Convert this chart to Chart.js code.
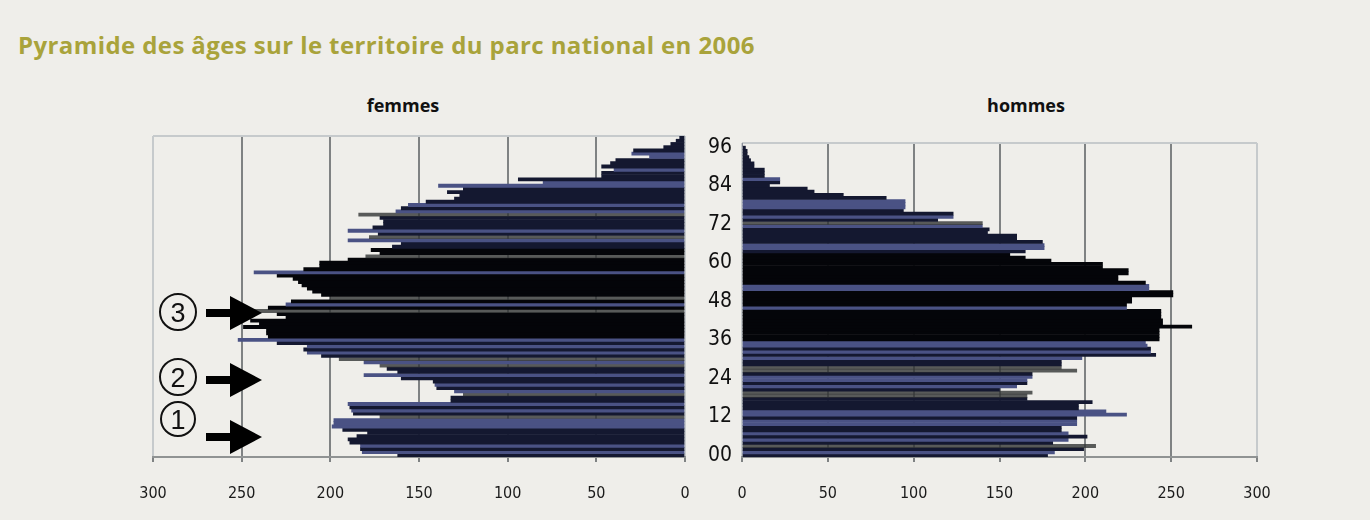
<!DOCTYPE html>
<html lang="fr">
<head>
<meta charset="utf-8">
<title>Pyramide des âges 2006</title>
<script src="https://cdn.jsdelivr.net/npm/chart.js@4.4.1/dist/chart.umd.min.js"></script>
<style>
  html, body { margin: 0; padding: 0; }
  body { width: 1370px; height: 520px; background: #efeeea; position: relative; overflow: hidden; font-family: 'Open Sans', sans-serif; }
  h1 { position: absolute; left: 18px; top: 28px; margin: 0; font-size: 24px; letter-spacing: 0.4px; font-weight: 700; color: #a9a33b; white-space: nowrap; }
  .side { position: absolute; top: 93px; font-size: 18px; font-weight: 700; color: #111; transform: translateX(-50%); }
  canvas { position: absolute; }
  svg { position: absolute; left: 0; top: 0; pointer-events: none; }
</style>
</head>
<body>
<h1>Pyramide des âges sur le territoire du parc national en 2006</h1>
<div class="side" style="left:403px">femmes</div>
<div class="side" style="left:1026px">hommes</div>
<canvas id="femmesChart" width="600" height="390" style="left:140px;top:130px"></canvas>
<canvas id="hommesChart" width="640" height="390" style="left:730px;top:130px"></canvas>
<svg width="1370" height="520">
  <g fill="none" stroke="#111" stroke-width="2">
    <circle cx="178" cy="312" r="18"/>
    <circle cx="178" cy="377" r="18"/>
    <circle cx="178" cy="419" r="17"/>
  </g>
  <g font-family="Liberation Sans, sans-serif" font-size="27" fill="#111" text-anchor="middle">
    <text x="178" y="322">3</text>
    <text x="178" y="387">2</text>
    <text x="178" y="429">1</text>
  </g>
  <g fill="#000">
    <polygon points="206,309 230,309 230,296 262,313 230,330 230,317 206,317"/>
    <polygon points="206,376 230,376 230,363 262,380 230,397 230,384 206,384"/>
    <polygon points="206,433 230,433 230,420 262,437 230,454 230,441 206,441"/>
  </g>
</svg>
<script>
// ages 0..99 (categories), bottom to top
const ages = Array.from({ length: 100 }, (_, i) => i);
const ageTicks = ['00', '12', '24', '36', '48', '60', '72', '84', '96'];
const valueTicks = [0, 50, 100, 150, 200, 250, 300];

// population by single year of age
const femmes = [
  162, 182, 183, 183, 189, 190, 185, 179, 193, 199,
  198, 198, 172, 187, 188, 189, 190, 132, 132, 125,
  130, 140, 141, 142, 160, 181, 162, 168, 172, 181,
  195, 205, 213, 215, 213, 230, 252, 235, 236, 236,
  249, 240, 245, 225, 230, 247, 235, 225, 222, 200,
  205, 210, 213, 216, 218, 221, 230, 243, 215, 206,
  206, 190, 180, 172, 177, 165, 160, 190, 178, 173,
  190, 176, 170, 170, 172, 184, 163, 160, 156, 146,
  130, 127, 134, 125, 139, 80, 94, 47, 47, 40,
  47, 42, 39, 20, 30, 29, 12, 8, 5, 3
];
const hommes = [
  178, 182, 199, 206, 181, 190, 201, 190, 186, 186,
  195, 195, 195, 224, 212, 196, 196, 204, 166, 166,
  169, 150, 160, 166, 166, 169, 169, 195, 186, 186,
  186, 198, 241, 238, 238, 236, 235, 243, 243, 243,
  243, 262, 245, 245, 244, 244, 244, 224, 224, 227,
  227, 251, 251, 237, 237, 235, 219, 219, 225, 225,
  210, 210, 180, 165, 156, 165, 176, 176, 175, 160,
  160, 143, 144, 140, 140, 114, 123, 123, 94, 95,
  95, 95, 84, 59, 42, 38, 16, 22, 22, 13,
  13, 13, 7, 7, 5, 4, 3, 3, 2, 0
];

// bar shading seen in the scan (style only)
const femmesBlue = [1, 3, 9, 10, 11, 14, 16, 20, 22, 25, 29, 32, 34, 36, 47, 57, 67, 70, 76, 78, 84, 85, 89, 93, 94];
const femmesGrey = [12, 19, 28, 30, 45, 49, 62, 68, 75];
const hommesBlue = [1, 5, 7, 10, 11, 13, 14, 22, 24, 25, 31, 33, 35, 36, 47, 53, 54, 66, 67, 73, 76, 79, 80, 81, 88];
const hommesGrey = [3, 19, 20, 27, 28, 74];

const BLACK = '#040509';
const NAVY = '#141830';
const BLUE = '#4a5284';
const GREY = 'rgba(50,52,53,0.8)';
const GRID_DARK = '#7f8283';
const GRID_LIGHT = '#c6cacc';
const NARROW = "'DejaVu Sans Condensed', 'Liberation Sans Narrow', 'Roboto Condensed', 'Liberation Sans', sans-serif";

function barColors(blue, grey) {
    return ages.map(a => {
        if (blue.includes(a)) return BLUE;
        if (grey.includes(a)) return GREY;
        return (a >= 37 && a <= 64) ? BLACK : NAVY;
    });
}

// top border of the plot frame
const framePlugin = {
    id: 'frame',
    beforeDatasetsDraw(chart) {
        const { ctx, chartArea: a } = chart;
        ctx.save();
        ctx.strokeStyle = GRID_LIGHT;
        ctx.lineWidth = 2;
        ctx.beginPath();
        ctx.moveTo(a.left, a.top);
        ctx.lineTo(a.right, a.top);
        ctx.stroke();
        ctx.restore();
    }
};

function xScale(reverse) {
    return {
        type: 'linear',
        min: valueTicks[0],
        max: valueTicks[valueTicks.length - 1],
        reverse: reverse,
        afterBuildTicks: s => { s.ticks = valueTicks.map(v => ({ value: v })); },
        afterFit: s => { s.height = 63; s.paddingLeft = 0; s.paddingRight = 0; },
        grid: {
            color: c => (c.tick && (c.tick.value === 0 || c.tick.value === 300)) ? GRID_LIGHT : GRID_DARK,
            lineWidth: 2,
            tickLength: 5,
            tickColor: GRID_DARK
        },
        border: { color: '#909393', width: 2 },
        ticks: {
            padding: 22,
            color: '#1a1a1a',
            font: { family: NARROW, size: 16 }
        }
    };
}

function yScale(showAges) {
    if (!showAges) {
        return { type: 'category', reverse: true, display: false };
    }
    return {
        type: 'category',
        reverse: true,
        position: 'right',
        afterFit: s => { s.width = 55; s.paddingTop = 0; s.paddingBottom = 0; },
        grid: { display: false },
        border: { display: false },
        ticks: {
            autoSkip: false,
            padding: 15,
            color: '#111',
            font: { family: NARROW, size: 21 },
            callback: function (value) {
                const lab = String(this.getLabelForValue(value)).padStart(2, '0');
                return ageTicks.includes(lab) ? lab : null;
            }
        }
    };
}

function makeChart(id, values, colors, reverse, showAges, padding) {
    return new Chart(document.getElementById(id), {
        type: 'bar',
        data: {
            labels: ages,
            datasets: [{
                data: values,
                backgroundColor: colors,
                borderWidth: 0,
                barPercentage: 1,
                categoryPercentage: 1
            }]
        },
        options: {
            indexAxis: 'y',
            responsive: false,
            animation: false,
            layout: { padding: padding },
            plugins: { legend: { display: false }, tooltip: { enabled: false } },
            scales: {
                x: xScale(reverse),
                y: yScale(showAges)
            }
        },
        plugins: [framePlugin]
    });
}

makeChart('femmesChart', femmes, barColors(femmesBlue, femmesGrey), true, true,
    { left: 13, right: 0, top: 6, bottom: 0 });
makeChart('hommesChart', hommes, barColors(hommesBlue, hommesGrey), false, false,
    { left: 12, right: 113, top: 13, bottom: 0 });
</script>
</body>
</html>
